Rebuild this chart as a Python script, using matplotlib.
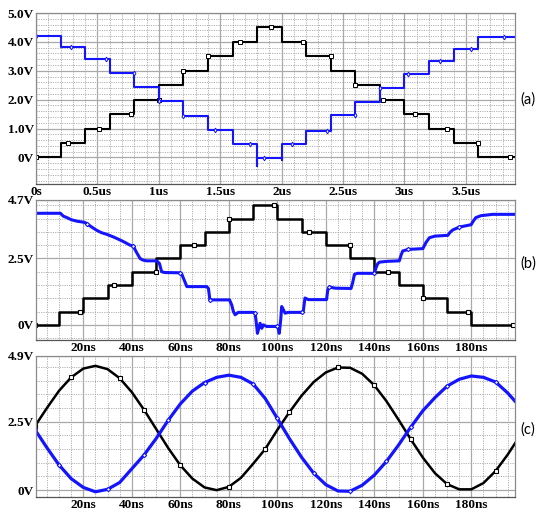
import numpy as np
import matplotlib.pyplot as plt
from matplotlib.ticker import FixedLocator, MultipleLocator

plt.rcParams['font.family'] = 'Liberation Serif'
plt.rcParams['font.weight'] = 'bold'

# ---- (a) slow staircase, time in us ----
step_t_a = [0.0, 0.2, 0.4, 0.6, 0.8, 1.0, 1.2, 1.4, 1.6, 1.8,
            2.0, 2.2, 2.4, 2.6, 2.8, 3.0, 3.2, 3.4, 3.6]
ramp_levels = [0.0, 0.5, 1.0, 1.5, 2.0, 2.5, 3.0, 3.5, 4.0, 4.5,
               4.0, 3.5, 3.0, 2.5, 2.0, 1.5, 1.0, 0.5, 0.0]
blue_a = [4.20, 3.83, 3.40, 2.94, 2.43, 1.94, 1.43, 0.94, 0.46, -0.02,
          0.46, 0.92, 1.47, 1.93, 2.39, 2.88, 3.34, 3.77, 4.18]
blue_a_dips = {1.8: -0.28, 2.0: -0.08}
end_a = 3.9
xt_a = [0, 0.5, 1.0, 1.5, 2.0, 2.5, 3.0, 3.5]
xl_a = ['0s', '0.5us', '1us', '1.5us', '2us', '2.5us', '3us', '3.5us']
yt_a = [0, 1, 2, 3, 4, 5]
yl_a = ['0V', '1.0V', '2.0V', '3.0V', '4.0V', '5.0V']

# ---- (b) fast staircase, time in ns ----
step_t_b = [0, 10, 20, 30, 40, 50, 60, 70, 80, 90,
            100, 110, 120, 130, 140, 150, 160, 170, 180]
end_b = 200
blue_b_t = [0, 10.6, 11.2, 11.8, 13.2, 15.0, 17.5, 20.5, 21.4, 23.5,
            25.5, 27.5, 29.6, 32.4, 36.0, 39.3, 40.6, 42.0, 43.4, 44.5,
            46.1, 50.3, 51.4, 52.3, 53.5, 59.9, 60.6, 62.7, 64.0, 70.9,
            71.6, 72.2, 73.5, 80.3, 81.2, 81.9, 82.6, 83.9, 90.1, 90.8,
            91.2, 91.8, 92.9, 93.6, 94.2, 95.6, 99.8, 100.4, 100.8, 101.4,
            101.8, 102.5, 103.2, 104.5, 110.1, 110.7, 111.4, 112.8, 120.3, 120.8,
            121.5, 124.0, 130.4, 131.1, 131.8, 133.0, 140.0, 140.7, 141.4, 142.1,
            145.0, 150.3, 151.0, 151.7, 154.0, 160.0, 161.3, 162.7, 165.0, 170.3,
            171.2, 172.3, 175.0, 179.9, 180.9, 181.9, 184.0, 188.8, 200.0]
blue_b_v = [4.20, 4.20, 4.14, 4.09, 4.04, 3.96, 3.90, 3.86, 3.81, 3.68,
            3.56, 3.47, 3.41, 3.31, 3.16, 3.00, 2.96, 2.72, 2.50, 2.44,
            2.41, 2.41, 2.31, 2.00, 1.97, 1.96, 1.91, 1.44, 1.44, 1.44,
            1.37, 0.94, 0.94, 0.94, 0.75, 0.50, 0.38, 0.47, 0.47, 0.44,
            0.19, -0.32, 0.06, -0.13, 0.00, -0.06, -0.06, -0.13, -0.32, 0.19,
            0.69, 0.57, 0.44, 0.47, 0.47, 0.51, 1.01, 0.95, 0.95, 1.31,
            1.42, 1.38, 1.37, 1.60, 1.90, 1.94, 1.94, 2.15, 2.30, 2.36,
            2.39, 2.41, 2.62, 2.78, 2.84, 2.87, 3.10, 3.28, 3.34, 3.37,
            3.48, 3.57, 3.68, 3.77, 3.92, 4.04, 4.11, 4.16, 4.16]
xt_ns = [20, 40, 60, 80, 100, 120, 140, 160, 180]
xl_ns = ['20ns', '40ns', '60ns', '80ns', '100ns', '120ns', '140ns', '160ns', '180ns']

# ---- (c) sine input, time in ns ----
t_c = [0, 5, 10, 15, 20, 25, 30, 35, 40, 45,
       50, 55, 60, 65, 70, 75, 80, 85, 90, 95,
       100, 105, 110, 115, 120, 125, 130, 135, 140, 145,
       150, 155, 160, 165, 170, 175, 180, 185, 190, 195, 200]
black_c = [2.33, 3.00, 3.63, 4.12, 4.44, 4.54, 4.42, 4.09, 3.58, 2.94,
           2.24, 1.54, 0.91, 0.42, 0.10, 0.00, 0.12, 0.45, 0.96, 1.50,
           2.20, 2.85, 3.45, 3.95, 4.30, 4.48, 4.47, 4.25, 3.83, 3.25,
           2.57, 1.86, 1.19, 0.62, 0.22, 0.03, 0.03, 0.26, 0.70, 1.30, 1.98]
blue_c = [2.22, 1.55, 0.92, 0.42, 0.10, -0.06, 0.03, 0.28, 0.78, 1.28,
          1.88, 2.55, 3.15, 3.62, 3.93, 4.12, 4.20, 4.12, 3.88, 3.35,
          2.62, 1.88, 1.20, 0.62, 0.20, -0.03, -0.04, 0.18, 0.55, 1.05,
          1.65, 2.30, 2.90, 3.38, 3.80, 4.05, 4.17, 4.12, 3.95, 3.55, 3.05]

BLUE = '#1414ff'
W, H = 536, 517


def stairs(t, v, t_end, dips=None, sub=8):
    """Step path with extra points on every flat part (for marker placement)."""
    xs, ys = [], []
    edges = list(t) + [t_end]
    for i, level in enumerate(v):
        if i > 0 and dips and t[i] in dips:
            xs.append(t[i])
            ys.append(dips[t[i]])
        seg = np.linspace(edges[i], edges[i + 1], sub)
        xs.extend(seg)
        ys.extend([level] * sub)
    return np.array(xs), np.array(ys)


def style(ax, xlim, ylim, xt, xl, yt, yl, xminor, yminor):
    ax.set_xlim(*xlim)
    ax.set_ylim(*ylim)
    ax.xaxis.set_major_locator(FixedLocator(xt))
    ax.set_xticklabels(xl)
    ax.yaxis.set_major_locator(FixedLocator(yt))
    ax.set_yticklabels(yl)
    ax.xaxis.set_minor_locator(MultipleLocator(xminor))
    ax.yaxis.set_minor_locator(MultipleLocator(yminor))
    ax.grid(which='major', color='#a9a9a9', lw=0.9, ls='-')
    ax.grid(which='minor', color='#b0b0b0', lw=0.7, ls=(0, (1.2, 1.2)))
    ax.set_axisbelow(True)
    ax.tick_params(which='both', length=0)
    ax.tick_params(axis='x', pad=1.5, labelsize=9.5)
    ax.tick_params(axis='y', pad=1.5, labelsize=9.5)
    for s in ax.spines.values():
        s.set_color('#8a8a8a')
        s.set_linewidth(0.9)
    ax.spines['bottom'].set_color('#555555')


def axes_px(top, bottom):
    return fig.add_axes([36 / W, 1 - bottom / H, 479 / W, (bottom - top) / H])


fig = plt.figure(figsize=(W / 100, H / 100), dpi=100)

# (a)
ax = axes_px(13, 184)
x, y = stairs(step_t_a, ramp_levels, end_a)
ax.plot(x, y, color='black', lw=1.5, marker='s', ms=2.4, mfc='white', mew=0.7,
        markevery=0.09)
x, y = stairs(step_t_a, blue_a, end_a, dips=blue_a_dips)
ax.plot(x, y, color=BLUE, lw=1.5, marker='d', ms=2.4, mfc='white', mew=0.7,
        markevery=0.09)
style(ax, (0, end_a), (-0.92, 5.0), xt_a, xl_a, yt_a, yl_a, 0.1, 0.2)

# (b)
ax = axes_px(200, 340)
x, y = stairs(step_t_b, ramp_levels, end_b)
ax.plot(x, y, color='black', lw=1.8, marker='s', ms=3, mfc='white', mew=0.8,
        markevery=0.12)
ax.plot(blue_b_t, blue_b_v, color=BLUE, lw=2.2, marker='D', ms=2.2, mfc='white',
        mew=0.8, markevery=0.11)
style(ax, (0.5, 198), (-0.57, 4.7), xt_ns, xl_ns, [0, 2.5, 4.7],
      ['0V', '2.5V', '4.7V'], 5, 0.5)

# (c)
ax = axes_px(356, 497)
ax.plot(t_c, black_c, color='black', lw=1.8, marker='s', ms=3, mfc='white',
        mew=0.8, markevery=0.11)
ax.plot(t_c, blue_c, color=BLUE, lw=2.3, marker='D', ms=2.2, mfc='white',
        mew=0.8, markevery=0.1)
style(ax, (0.5, 198), (-0.25, 4.9), xt_ns, xl_ns, [0, 2.5, 4.9],
      ['0V', '2.5V', '4.9V'], 5, 0.5)

for label, ypx in [('(a)', 100), ('(b)', 264), ('(c)', 430)]:
    fig.text(528 / W, 1 - ypx / H, label, ha='center', va='center',
             family='Lato', weight='normal', fontsize=10.5)

fig.savefig('out.png', dpi=100)
